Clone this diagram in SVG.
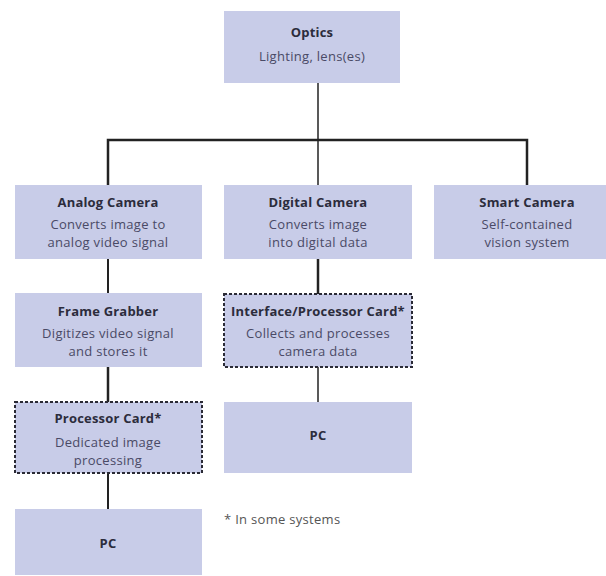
<svg xmlns="http://www.w3.org/2000/svg" width="606" height="576" viewBox="0 0 606 576">
<style>
.box{fill:#c8cce8;}
.dash{fill:#c8cce8;stroke:#2a2a35;stroke-width:2;stroke-dasharray:3 2;}
.t{font-family:"Open Sans","Noto Sans","DejaVu Sans",sans-serif;font-size:13px;font-weight:bold;fill:#2c2c3c;text-anchor:middle;letter-spacing:0.2px;}
.b{font-family:"Open Sans","Noto Sans","DejaVu Sans",sans-serif;font-size:13px;fill:#4a4a66;text-anchor:middle;letter-spacing:0.3px;}
.c{stroke:#222;fill:none;}
.note{font-family:"Open Sans","Noto Sans","DejaVu Sans",sans-serif;font-size:13px;fill:#555;letter-spacing:0.3px;}
</style>
<rect width="606" height="576" fill="#fff"/>
<g id="connectors">
<line class="c" x1="318" y1="83" x2="318" y2="140" stroke-width="1.5"/>
<polyline class="c" points="108,185 108,140 527,140 527,185" stroke-width="2.5"/>
<line class="c" x1="318" y1="140" x2="318" y2="185" stroke-width="1.5"/>
<line class="c" x1="108" y1="259" x2="108" y2="293" stroke-width="2"/>
<line class="c" x1="318" y1="259" x2="318" y2="294" stroke-width="2.5"/>
<line class="c" x1="108" y1="367" x2="108" y2="402" stroke-width="2.5"/>
<line class="c" x1="318" y1="367" x2="318" y2="402" stroke-width="1.5"/>
<line class="c" x1="108" y1="473" x2="108" y2="509" stroke-width="2"/>
</g>
<g id="optics">
<rect class="box" x="224" y="11" width="176" height="72"/>
<text class="t" x="312" y="37">Optics</text>
<text class="b" x="312" y="61">Lighting, lens(es)</text>
</g>
<g id="analog">
<rect class="box" x="15" y="185" width="187" height="74"/>
<text class="t" x="108" y="207">Analog Camera</text>
<text class="b" x="108" y="229">Converts image to</text>
<text class="b" x="108" y="247">analog video signal</text>
</g>
<g id="digital">
<rect class="box" x="224" y="185" width="188" height="74"/>
<text class="t" x="318" y="207">Digital Camera</text>
<text class="b" x="318" y="229">Converts image</text>
<text class="b" x="318" y="247">into digital data</text>
</g>
<g id="smart">
<rect class="box" x="434" y="185" width="187" height="74"/>
<text class="t" x="527" y="207">Smart Camera</text>
<text class="b" x="527" y="229">Self-contained</text>
<text class="b" x="527" y="247">vision system</text>
</g>
<g id="framegrabber">
<rect class="box" x="15" y="293" width="187" height="74"/>
<text class="t" x="108" y="316">Frame Grabber</text>
<text class="b" x="108" y="338">Digitizes video signal</text>
<text class="b" x="108" y="356">and stores it</text>
</g>
<g id="interface">
<rect class="dash" x="224" y="294" width="188" height="73"/>
<text class="t" x="318" y="316">Interface/Processor Card*</text>
<text class="b" x="318" y="338">Collects and processes</text>
<text class="b" x="318" y="356">camera data</text>
</g>
<g id="processor">
<rect class="dash" x="15" y="402" width="187" height="71"/>
<text class="t" x="108" y="423">Processor Card*</text>
<text class="b" x="108" y="447">Dedicated image</text>
<text class="b" x="108" y="465">processing</text>
</g>
<g id="pc-digital">
<rect class="box" x="224" y="402" width="188" height="71"/>
<text class="t" x="318" y="440">PC</text>
</g>
<g id="pc-analog">
<rect class="box" x="15" y="509" width="187" height="66"/>
<text class="t" x="108" y="548">PC</text>
</g>
<text class="note" x="224" y="524">* In some systems</text>
</svg>
